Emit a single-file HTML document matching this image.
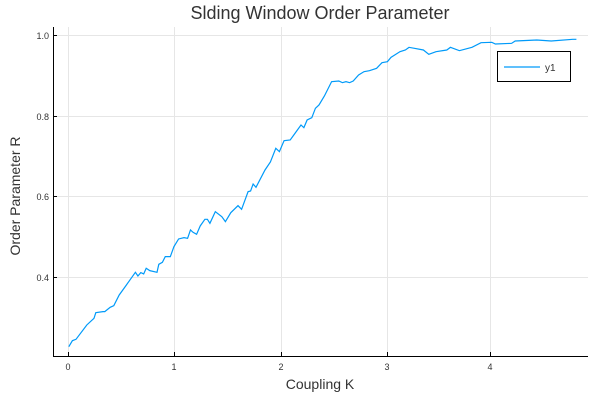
<!DOCTYPE html>
<html><head><meta charset="utf-8"><style>
html,body{margin:0;padding:0;background:#fff;}
svg{display:block;font-family:"Liberation Sans",sans-serif;}
</style></head><body>
<svg width="600" height="400" viewBox="0 0 600 400">
<rect width="600" height="400" fill="#fff"/>
<g stroke="#e6e6e6" stroke-width="1">
<line x1="68.5" y1="27" x2="68.5" y2="356"/>
<line x1="174.5" y1="27" x2="174.5" y2="356"/>
<line x1="281.5" y1="27" x2="281.5" y2="356"/>
<line x1="387.5" y1="27" x2="387.5" y2="356"/>
<line x1="490.5" y1="27" x2="490.5" y2="356"/>
<line x1="53" y1="35.5" x2="588" y2="35.5"/>
<line x1="53" y1="116.5" x2="588" y2="116.5"/>
<line x1="53" y1="196.5" x2="588" y2="196.5"/>
<line x1="53" y1="277.5" x2="588" y2="277.5"/>
</g>
<g stroke="#000" stroke-width="1">
<line x1="53.5" y1="27" x2="53.5" y2="356"/>
<line x1="53" y1="356.5" x2="588" y2="356.5"/>
<line x1="68.5" y1="356" x2="68.5" y2="352"/>
<line x1="174.5" y1="356" x2="174.5" y2="352"/>
<line x1="281.5" y1="356" x2="281.5" y2="352"/>
<line x1="387.5" y1="356" x2="387.5" y2="352"/>
<line x1="490.5" y1="356" x2="490.5" y2="352"/>
<line x1="53" y1="35.5" x2="57" y2="35.5"/>
<line x1="53" y1="116.5" x2="57" y2="116.5"/>
<line x1="53" y1="196.5" x2="57" y2="196.5"/>
<line x1="53" y1="277.5" x2="57" y2="277.5"/>
</g>
<g font-size="9" fill="#333" text-anchor="middle">
<text x="68" y="370">0</text><text x="174" y="370">1</text><text x="281" y="370">2</text><text x="387" y="370">3</text><text x="490" y="370">4</text>
</g>
<g font-size="9" fill="#333" text-anchor="end">
<text x="49" y="39">1.0</text><text x="49" y="120">0.8</text><text x="49" y="200">0.6</text><text x="49" y="281">0.4</text>
</g>
<text x="320" y="19" font-size="18" text-anchor="middle" fill="#333">Slding Window Order Parameter</text>
<text x="320" y="389" font-size="14" text-anchor="middle" fill="#333">Coupling K</text>
<text transform="translate(20,196) rotate(-90)" font-size="14" text-anchor="middle" fill="#333">Order Parameter R</text>
<g transform="translate(40,20) scale(0.36,0.3333)">
<polyline fill="none" stroke="#009af9" stroke-width="1.2" vector-effect="non-scaling-stroke" points="80,980 90,962 100,958 130,915 150,895 155,878 175,875 180,875 195,862 205,857 220,825 240,795 265,757 272,768 280,758 288,762 295,745 305,752 325,757 330,733 340,727 348,710 362,710 372,680 385,657 400,653 410,655 418,630 425,637 435,643 445,618 458,598 465,598 472,610 487,575 505,590 515,605 530,578 550,557 560,568 578,515 585,513 592,492 600,502 625,450 640,426 655,385 665,395 678,362 695,360 705,345 715,330 725,315 733,323 742,300 755,293 765,265 775,255 790,228 810,185 830,183 840,188 850,185 860,188 870,183 885,165 900,155 915,152 935,145 950,128 965,125 975,112 1000,95 1015,90 1025,82 1040,85 1065,90 1080,103 1100,95 1130,90 1140,82 1165,92 1200,82 1225,68 1255,67 1265,72 1310,70 1320,63 1380,60 1420,63 1480,58 1490,58"/>
</g>
<rect x="497.5" y="51.5" width="73" height="30" fill="#fff" stroke="#000"/>
<line x1="504" y1="67" x2="540" y2="67" stroke="#009af9" stroke-width="1.2"/>
<text x="545" y="71" font-size="10" fill="#333">y1</text>
</svg>
</body></html>
